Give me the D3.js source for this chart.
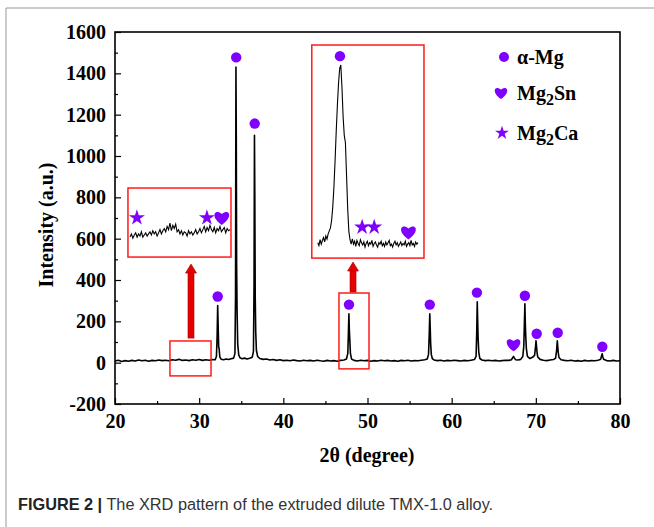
<!DOCTYPE html>
<html>
<head>
<meta charset="utf-8">
<script src="https://cdn.jsdelivr.net/npm/d3@7"></script>
<style>
  body { margin: 0; background: #fff; }
  svg { display: block; }
</style>
</head>
<body>
<script>
// main XRD pattern, [2theta, intensity]
var mainPattern = [
  [20.0,8],[20.4,12],[20.8,6],[21.2,10],[21.6,7],[22.0,11],[22.4,8],[22.8,13],[23.2,9],[23.6,12],[24.0,7],[24.4,11],[24.8,9],[25.2,13],[25.6,10],[26.0,12],[26.4,9],[26.8,14],[27.2,12],[27.6,16],[28.0,11],[28.4,13],[28.8,10],[29.2,14],[29.6,12],[30.0,15],[30.4,11],[30.8,14],[31.2,12],[31.6,15],[31.9,14],
  [32.05,30],[32.13,120],[32.2,276],[32.26,170],[32.32,75],[32.37,70],[32.45,28],[32.6,17],
  [32.9,14],[33.2,18],[33.5,15],[33.8,19],[34.1,22],
  [34.25,45],[34.32,320],[34.37,1430],[34.41,1100],[34.45,480],[34.5,260],[34.58,90],[34.7,38],[34.85,24],
  [35.1,19],[35.4,22],[35.7,18],[36.0,21],[36.3,26],
  [36.45,55],[36.52,380],[36.57,1100],[36.61,820],[36.66,320],[36.72,150],[36.8,60],[36.95,30],
  [37.2,20],[37.6,16],[38.0,18],[38.4,13],[38.8,15],[39.2,11],[39.6,14],[40.0,10],[40.4,12],[40.8,9],[41.2,13],[41.6,10],[42.0,8],[42.4,12],[42.8,9],[43.2,11],[43.6,8],[44.0,12],[44.4,9],[44.8,7],[45.2,11],[45.6,8],[46.0,10],[46.4,7],[46.8,11],[47.2,13],[47.5,18],
  [47.66,45],[47.73,140],[47.79,237],[47.84,160],[47.9,110],[47.97,45],[48.1,18],
  [48.4,11],[48.8,8],[49.2,12],[49.6,9],[50.0,11],[50.4,7],[50.8,10],[51.2,8],[51.6,12],[52.0,9],[52.4,11],[52.8,8],[53.2,10],[53.6,7],[54.0,11],[54.4,9],[54.8,12],[55.2,8],[55.6,10],[56.0,9],[56.4,12],[56.8,14],[57.1,18],
  [57.25,40],[57.33,130],[57.4,237],[57.45,170],[57.5,95],[57.58,40],[57.7,20],
  [57.9,13],[58.3,10],[58.7,12],[59.1,8],[59.5,11],[59.9,9],[60.3,12],[60.7,10],[61.1,8],[61.5,11],[61.9,9],[62.3,12],[62.7,15],
  [62.9,30],[62.98,150],[63.04,295],[63.09,200],[63.14,120],[63.22,50],[63.35,20],
  [63.6,13],[64.0,10],[64.4,12],[64.8,9],[65.2,11],[65.6,8],[66.0,10],[66.4,12],[66.8,11],[67.1,14],
  [67.25,24],[67.35,30],[67.45,22],[67.6,14],
  [67.9,13],[68.2,16],[68.45,30],
  [68.57,80],[68.64,190],[68.7,285],[68.75,190],[68.8,130],[68.88,65],[69.0,30],
  [69.3,20],[69.6,26],[69.85,35],
  [69.95,70],[70.02,106],[70.07,85],[70.13,55],[70.22,28],
  [70.5,16],[70.9,12],[71.3,10],[71.7,13],[72.1,15],[72.35,22],
  [72.47,60],[72.55,106],[72.6,80],[72.66,50],[72.75,25],
  [73.0,14],[73.4,11],[73.8,9],[74.2,12],[74.6,8],[75.0,10],[75.4,7],[75.8,11],[76.2,8],[76.6,10],[77.0,9],[77.4,12],[77.7,16],
  [77.82,35],[77.88,43],[77.95,30],[78.05,16],
  [78.4,10],[78.8,8],[79.2,11],[79.6,8],[80.0,9]
];

// phase markers on the main pattern [2theta, intensity]
var alphaMgMarks = [[32.2,320],[34.4,1477],[36.6,1157],[47.8,281],[57.4,281],[63.0,339],[68.7,324],[70.1,140],[72.6,145],[77.9,77]];
var mg2SnMarks = [[67.35,87]];

// low angle inset (26.5 - 31.4 deg), step 0.07
var lowStart = 26.5, lowStep = 0.07;
var lowInset = [12,15,11,14,16,12,15,13,17,12,14,16,13,15,17,
  14,18,15,17,13,16,19,15,18,20,
  17,22,19,25,18,23,20,24,17,
  19,15,18,14,17,16,13,18,15,17,14,16,19,15,17,
  20,16,19,22,17,21,18,23,19,17,
  21,16,20,18,22,17,19,21,16,20,18,19];
var lowStars = [[26.84,30],[30.27,30]];
var lowHearts = [[31.0,30]];

// 47.8 deg peak inset (47.0 - 50.48 deg), step 0.04
var peakStart = 47.0, peakStep = 0.04;
var peakInset = [10,6,14,8,13,17,11,19,15,22,26,
  30,40,58,85,120,160,195,225,245,250,
  220,180,155,145,100,55,25,14,8,
  15,8,12,5,13,9,6,14,10,7,
  11,4,9,12,6,10,8,13,5,9,
  11,7,4,10,8,12,6,9,5,11,
  7,10,13,6,8,4,9,12,7,10,
  5,8,11,6,9,7,12,5,8,10,
  6,13,7,9,5,11,8,10];
var peakCircles = [[47.77,262]];
var peakStars = [[48.54,31],[48.96,31]];
var peakHearts = [[50.15,24]];

// zoom boxes on the main plot and inset boxes [x0, x1, y0, y1] in data units
var zoomBoxes = [[26.53,31.41,-64,105],[46.61,50.18,-30,337]];
var insetBoxes = [[21.54,33.78,511,845],[43.38,56.71,506,1537]];
var arrows = [[29.03,119,477],[48.28,342,487]];

var xTicks = [20,30,40,50,60,70,80];
var xMinor = [25,35,45,55,65,75];
var yTicks = [-200,0,200,400,600,800,1000,1200,1400,1600];
var yMinor = [-100,100,300,500,700,900,1100,1300,1500];

var purple = "#8000ff";
var serif = "'Liberation Serif', 'Times New Roman', serif";

var svg = d3.select("body").append("svg").attr("width", 654).attr("height", 527);
svg.append("rect").attr("width", 654).attr("height", 527).attr("fill", "#fff");

// outer figure frame (cropped on right/bottom)
svg.append("path").attr("d", "M6,527V8H654").attr("fill", "none").attr("stroke", "#999").attr("stroke-width", 1);

var x = d3.scaleLinear().domain([20, 80]).range([115, 620]);
var y = d3.scaleLinear().domain([-200, 1600]).range([404, 32]);

function heart(s) {
  return "M0," + (s * 0.55) +
    "C" + (-s * 0.9) + "," + (-s * 0.05) + " " + (-s * 0.6) + "," + (-s * 0.75) + " 0," + (-s * 0.3) +
    "C" + (s * 0.6) + "," + (-s * 0.75) + " " + (s * 0.9) + "," + (-s * 0.05) + " 0," + (s * 0.55) + "Z";
}
var star = d3.symbol().type(d3.symbolStar).size(80)();

// axes, ticks inward
var gx = svg.append("g").attr("transform", "translate(0,404)")
  .call(d3.axisBottom(x).tickValues(xTicks).tickSize(-6).tickPadding(10).tickFormat(String));
svg.append("g").attr("transform", "translate(0,404)")
  .call(d3.axisBottom(x).tickValues(xMinor).tickSize(-3).tickFormat(""));
var gy = svg.append("g").attr("transform", "translate(115,0)")
  .call(d3.axisLeft(y).tickValues(yTicks).tickSize(-6).tickPadding(9).tickFormat(String));
svg.append("g").attr("transform", "translate(115,0)")
  .call(d3.axisLeft(y).tickValues(yMinor).tickSize(-3).tickFormat(""));
svg.selectAll(".domain").remove();
svg.selectAll(".tick line").attr("stroke", "#000").attr("stroke-width", 1.2);
svg.selectAll(".tick text").attr("font-family", serif).attr("font-weight", "bold")
  .attr("font-size", 20).attr("fill", "#000").attr("text-anchor", null);
gx.selectAll(".tick text").attr("text-anchor", "middle");
gy.selectAll(".tick text").attr("text-anchor", "end");

svg.append("rect").attr("x", x(20)).attr("y", y(1600))
  .attr("width", x(80) - x(20)).attr("height", y(-200) - y(1600))
  .attr("fill", "none").attr("stroke", "#000").attr("stroke-width", 1.6);

// axis titles
svg.append("text").attr("x", 367).attr("y", 462).attr("text-anchor", "middle")
  .attr("font-family", serif).attr("font-weight", "bold").attr("font-size", 20).text("2θ (degree)");
svg.append("text").attr("transform", "translate(53,225) rotate(-90)").attr("text-anchor", "middle")
  .attr("font-family", serif).attr("font-weight", "bold").attr("font-size", 20).text("Intensity (a.u.)");

// pattern
var line = d3.line().x(function (d) { return x(d[0]); }).y(function (d) { return y(d[1]); });
svg.append("path").datum(mainPattern).attr("d", line)
  .attr("fill", "none").attr("stroke", "#000").attr("stroke-width", 1.6).attr("stroke-linejoin", "round");

svg.selectAll("circle.amg").data(alphaMgMarks).enter().append("circle").attr("class", "amg")
  .attr("cx", function (d) { return x(d[0]); }).attr("cy", function (d) { return y(d[1]); })
  .attr("r", 5.2).attr("fill", purple);
svg.selectAll("path.sn").data(mg2SnMarks).enter().append("path").attr("class", "sn")
  .attr("transform", function (d) { return "translate(" + x(d[0]) + "," + y(d[1]) + ")"; })
  .attr("d", heart(12)).attr("fill", purple);

// zoom boxes
svg.selectAll("rect.zoom").data(zoomBoxes).enter().append("rect").attr("class", "zoom")
  .attr("x", function (d) { return x(d[0]); }).attr("y", function (d) { return y(d[3]); })
  .attr("width", function (d) { return x(d[1]) - x(d[0]); })
  .attr("height", function (d) { return y(d[2]) - y(d[3]); })
  .attr("fill", "none").attr("stroke", "#ff1a1a").attr("stroke-width", 1.5);

// arrows
arrows.forEach(function (a) {
  var cx = x(a[0]), yb = y(a[1]), yt = y(a[2]);
  svg.append("rect").attr("x", cx - 3).attr("y", yt + 8).attr("width", 6).attr("height", yb - yt - 8)
    .attr("fill", "#e60000").attr("stroke", "#a00000").attr("stroke-width", 0.6);
  svg.append("path").attr("d", "M" + cx + "," + yt + "L" + (cx - 5.5) + "," + (yt + 9) + "L" + (cx + 5.5) + "," + (yt + 9) + "Z")
    .attr("fill", "#e60000").attr("stroke", "#a00000").attr("stroke-width", 0.6);
});

// insets
function drawInset(box, vals, start, step, ydom, pad, marks) {
  var bx0 = x(box[0]), bx1 = x(box[1]), by0 = y(box[3]), by1 = y(box[2]);
  var g = svg.append("g");
  g.append("rect").attr("x", bx0).attr("y", by0).attr("width", bx1 - bx0).attr("height", by1 - by0)
    .attr("fill", "#fff").attr("stroke", "#ff1a1a").attr("stroke-width", 1.5);
  var pts = vals.map(function (v, i) { return [start + i * step, v]; });
  var ix = d3.scaleLinear().domain([start, start + (vals.length - 1) * step]).range([bx0 + pad[0], bx1 - pad[1]]);
  var iy = d3.scaleLinear().domain(ydom).range([by1 - pad[2], by0 + pad[3]]);
  g.append("path").datum(pts)
    .attr("d", d3.line().x(function (d) { return ix(d[0]); }).y(function (d) { return iy(d[1]); }))
    .attr("fill", "none").attr("stroke", "#000").attr("stroke-width", 1.1);
  (marks.circles || []).forEach(function (d) {
    g.append("circle").attr("cx", ix(d[0])).attr("cy", iy(d[1])).attr("r", 5.2).attr("fill", purple);
  });
  (marks.stars || []).forEach(function (d) {
    g.append("path").attr("transform", "translate(" + ix(d[0]) + "," + iy(d[1]) + ")").attr("d", star).attr("fill", purple);
  });
  (marks.hearts || []).forEach(function (d) {
    g.append("path").attr("transform", "translate(" + ix(d[0]) + "," + iy(d[1]) + ")").attr("d", heart(13)).attr("fill", purple);
  });
}
drawInset(insetBoxes[0], lowInset, lowStart, lowStep, [0, 40], [2, 1, 7, 19], { stars: lowStars, hearts: lowHearts });
drawInset(insetBoxes[1], peakInset, peakStart, peakStep, [0, 250], [6, 6, 8, 20],
  { circles: peakCircles, stars: peakStars, hearts: peakHearts });

// legend
var legend = svg.append("g").attr("font-family", serif).attr("font-weight", "bold").attr("font-size", 20);
legend.append("circle").attr("cx", 504).attr("cy", 57).attr("r", 5).attr("fill", purple);
legend.append("text").attr("x", 517).attr("y", 64).text("α-Mg");
legend.append("path").attr("transform", "translate(501,93)").attr("d", heart(11)).attr("fill", purple);
var t2 = legend.append("text").attr("x", 517).attr("y", 100);
t2.append("tspan").text("Mg");
t2.append("tspan").attr("dy", 5).attr("font-size", 16).text("2");
t2.append("tspan").attr("dy", -5).text("Sn");
legend.append("path").attr("transform", "translate(502,133)").attr("d", d3.symbol().type(d3.symbolStar).size(60)()).attr("fill", purple);
var t3 = legend.append("text").attr("x", 517).attr("y", 140);
t3.append("tspan").text("Mg");
t3.append("tspan").attr("dy", 5).attr("font-size", 16).text("2");
t3.append("tspan").attr("dy", -5).text("Ca");

// caption
var cap = svg.append("text").attr("x", 18).attr("y", 510)
  .attr("font-family", "'Liberation Sans', Arial, sans-serif").attr("font-size", 16.3).attr("fill", "#333");
cap.append("tspan").attr("font-weight", "bold").attr("fill", "#222").text("FIGURE 2 |");
cap.append("tspan").text(" The XRD pattern of the extruded dilute TMX-1.0 alloy.");
</script>
</body>
</html>
